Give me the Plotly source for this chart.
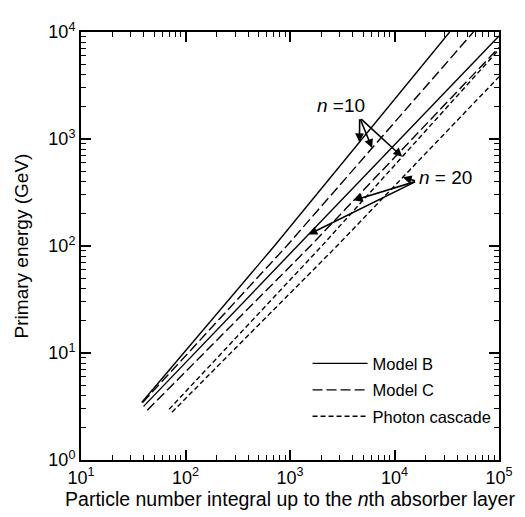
import numpy as np
import plotly.graph_objects as go

# ---- data (x: particle number integral, y: primary energy GeV)
# Model B
b10_x = [38.1, 708, 33750]
b10_y = [3.45, 100, 10000]
b20_x = [39.7, 1180, 100000]
b20_y = [3.17, 100, 9200]
# Model C
c10_x = [38.9, 929, 56900]
c10_y = [3.45, 100, 10000]
c20_x = [43.1, 1567, 100000]
c20_y = [2.92, 100, 7150]
# Photon cascade
p10_x = [69.7, 2014, 100000]
p10_y = [2.98, 100, 6860]
p20_x = [74.3, 2813, 100000]
p20_y = [2.80, 100, 3810]

x_tickvals = [10, 100, 1000, 10000, 100000]
x_ticktext = ["10<sup>1</sup>", "10<sup>2</sup>", "10<sup>3</sup>", "10<sup>4</sup>", "10<sup>5</sup>"]
y_tickvals = [1, 10, 100, 1000, 10000]
y_ticktext = ["10<sup>0</sup>", "10<sup>1</sup>", "10<sup>2</sup>", "10<sup>3</sup>", "10<sup>4</sup>"]

# arrow targets (energy at which each arrow touches its curve)
n10_targets = [(b10_x, b10_y, 934), (c10_x, c10_y, 823), (p10_x, p10_y, 682)]
n20_targets = [(p20_x, p20_y, 439), (c20_x, c20_y, 267), (b20_x, b20_y, 128)]

FONT = "Liberation Sans"
solid = "solid"
longdash = "10px,4px"
shortdash = "5px,3px"

fig = go.Figure()

def add_line(xs, ys, dash, name, show):
    fig.add_trace(go.Scatter(x=xs, y=ys, mode="lines", name=name, showlegend=show,
                             legendgroup=name,
                             line=dict(color="black", width=1.4, dash=dash)))

add_line(b10_x, b10_y, solid, "Model B", True)
add_line(b20_x, b20_y, solid, "Model B", False)
add_line(c10_x, c10_y, longdash, "Model C", True)
add_line(c20_x, c20_y, longdash, "Model C", False)
add_line(p10_x, p10_y, shortdash, "Photon cascade", True)
add_line(p20_x, p20_y, shortdash, "Photon cascade", False)

def point_on(xs, ys, yv):
    lx = np.log10(xs); ly = np.log10(ys)
    return float(np.interp(np.log10(yv), ly, lx)), float(np.log10(yv))

annotations = []
def arrows(targets, tail):
    for xs, ys, yv in targets:
        px, py = point_on(xs, ys, yv)
        annotations.append(dict(x=px, y=py, ax=tail[0], ay=tail[1], axref="x", ayref="y",
                                xref="x", yref="y", text="", showarrow=True,
                                arrowhead=2, arrowsize=1.1, arrowwidth=1.6, arrowcolor="black"))

arrows(n10_targets, (3.667, 3.198))
arrows(n20_targets, (4.211, 2.606))
annotations.append(dict(x=3.485, y=3.31, xref="x", yref="y", text="<i>n</i> =10",
                        showarrow=False, font=dict(size=19, family=FONT, color="black")))
annotations.append(dict(x=4.215, y=2.642, xref="x", yref="y", text="<i>n</i> = 20",
                        xanchor="left", showarrow=False, font=dict(size=19, family=FONT, color="black")))

minor_vals = [m * 10 ** k for k in range(0, 5) for m in range(2, 10)]

axis_common = dict(type="log", showgrid=False, zeroline=False, showline=True,
                   linecolor="black", linewidth=2, mirror="allticks",
                   ticks="inside", ticklen=10, tickwidth=1.5, tickcolor="black",
                   tickfont=dict(size=18, family=FONT, color="black"),
                   minor=dict(ticks="inside", ticklen=5, tickwidth=1, tickcolor="black",
                              tickvals=minor_vals, showgrid=False))

fig.update_xaxes(**axis_common, range=[1, 5], tickmode="array", tickvals=x_tickvals,
                 ticktext=x_ticktext,
                 title=dict(text="Particle number integral up to the <i>n</i>th absorber layer",
                            font=dict(size=19.5, family=FONT, color="black"), standoff=4))
fig.update_yaxes(**axis_common, range=[0, 4], tickmode="array", tickvals=y_tickvals,
                 ticktext=y_ticktext,
                 title=dict(text="Primary energy (GeV)",
                            font=dict(size=19, family=FONT, color="black"), standoff=15))

fig.update_layout(width=517, height=509,
                  margin=dict(l=58, r=18, t=16, b=54),
                  paper_bgcolor="white", plot_bgcolor="white",
                  font=dict(family=FONT, size=17, color="black"),
                  annotations=annotations,
                  legend=dict(x=0.542, y=0.266, xanchor="left", yanchor="top",
                              bgcolor="rgba(0,0,0,0)", font=dict(size=16.5, family=FONT),
                              itemwidth=55, tracegroupgap=2))

fig.write_html("out.html")
